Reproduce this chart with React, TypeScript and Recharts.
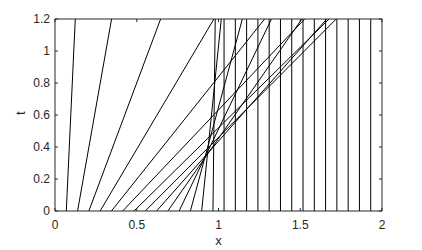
import React from "react";
import { LineChart, Line, XAxis, YAxis } from "recharts";

// characteristic lines: foot at t = 0, position where each one leaves the top (t = 1.2)
const startX = [
  0.069, 0.138, 0.207, 0.276, 0.345, 0.414, 0.483, 0.552, 0.621, 0.69, 0.759,
  0.828, 0.897, 0.966, 1.034, 1.103, 1.172, 1.241, 1.31, 1.379, 1.448, 1.517,
  1.586, 1.655, 1.724, 1.793, 1.862, 1.931,
];
const endX = [
  0.124, 0.346, 0.646, 0.972, 1.282, 1.527, 1.676, 1.72, 1.662, 1.51, 1.324,
  1.146, 1.017, 0.98, 1.034, 1.103, 1.172, 1.241, 1.31, 1.379, 1.448, 1.517,
  1.586, 1.655, 1.724, 1.793, 1.862, 1.931,
];
const tTop = 1.2;

const xTicks = [0, 0.5, 1, 1.5, 2];
const tTicks = [0, 0.2, 0.4, 0.6, 0.8, 1, 1.2];

const AXIS = "#262626";
const FONT = "'Liberation Sans', Arial, sans-serif";
const blank = () => "";

export default function App() {
  const series = startX.map((x0, i) => [
    { x: x0, t: 0 },
    { x: endX[i], t: tTop },
  ]);

  return (
    <div style={{ position: "absolute", left: 0, top: 0, background: "#fff" }}>
      <LineChart
        width={422}
        height={250}
        margin={{ top: 18, right: 39, bottom: 0, left: 0 }}
        style={{ fontFamily: FONT }}
      >
        <XAxis
          xAxisId="b"
          type="number"
          dataKey="x"
          domain={[0, 2]}
          ticks={xTicks}
          allowDataOverflow
          height={39}
          tickSize={-3}
          tickMargin={12}
          stroke={AXIS}
          tick={{ fill: AXIS, fontSize: 12 }}
          label={{ value: "x", position: "insideBottom", offset: 5, fill: AXIS, fontSize: 13 }}
        />
        <XAxis
          xAxisId="top"
          orientation="top"
          type="number"
          dataKey="x"
          domain={[0, 2]}
          ticks={xTicks}
          allowDataOverflow
          height={1}
          tickSize={-3}
          tickFormatter={blank}
          stroke={AXIS}
        />
        <YAxis
          yAxisId="l"
          type="number"
          dataKey="t"
          domain={[0, 1.2]}
          ticks={tTicks}
          allowDataOverflow
          width={55}
          tickSize={-3}
          tickMargin={8}
          stroke={AXIS}
          tick={{ fill: AXIS, fontSize: 12 }}
          label={{ value: "t", angle: -90, position: "insideLeft", offset: 20, fill: AXIS, fontSize: 13 }}
        />
        <YAxis
          yAxisId="r"
          orientation="right"
          type="number"
          dataKey="t"
          domain={[0, 1.2]}
          ticks={tTicks}
          allowDataOverflow
          width={1}
          tickSize={-3}
          tickFormatter={blank}
          stroke={AXIS}
        />
        {series.map((d, i) => (
          <Line
            key={i}
            data={d}
            xAxisId="b"
            yAxisId="l"
            dataKey="t"
            stroke="#000"
            strokeWidth={1}
            dot={false}
            activeDot={false}
            isAnimationActive={false}
          />
        ))}
        {/* invisible copy bound to the mirrored axes so they get drawn */}
        <Line
          data={series[0]}
          xAxisId="top"
          yAxisId="r"
          dataKey="t"
          stroke="none"
          dot={false}
          activeDot={false}
          isAnimationActive={false}
        />
      </LineChart>
    </div>
  );
}
